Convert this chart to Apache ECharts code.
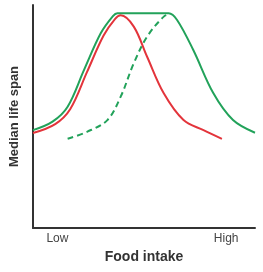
<!DOCTYPE html>
<html>
<head>
<meta charset="utf-8">
<style>
  html, body { margin: 0; padding: 0; background: #fff; }
  #chart { width: 263px; height: 272px; }
</style>
<script src="https://cdn.jsdelivr.net/npm/echarts@6/dist/echarts.min.js"></script>
</head>
<body>
<div id="chart"></div>
<script>
// food intake (0..100) vs median life span (0..100)
const greenSolid = [
  [0, 43.9], [8.8, 47.7], [15.6, 54.4], [23, 70.9], [30.5, 87.3], [36, 95], [38, 96.3],
  [50, 96.3], [61.1, 96.3], [64.9, 93.3], [72.2, 79.8], [81.2, 60.5], [90.1, 48.4], [100, 42.7],
]
const redSolid = [
  [0, 42.6], [10, 46.6], [16.8, 53.4], [24.3, 69.9], [31.8, 86.3], [37, 93.8], [39.5, 95.4],
  [45.4, 90.3], [51.4, 76.8], [58.9, 60.4], [67.8, 48.4], [76.8, 43.9], [85.1, 40],
]
const greenDashed = [
  [15.6, 40], [24.5, 43.2], [33.5, 48.4], [39.5, 58.9], [45.4, 73.9], [51.4, 85.8],
  [58.9, 94.8], [61.9, 96],
]
const xTickValues = [11, 87]
const xTickLabels = ['Low', 'High']

const green = '#22a25a'
const red = '#e3343b'
const axisColor = '#333'

const chart = echarts.init(document.getElementById('chart'))

function lineSeries(data, color, dashed) {
  return {
    type: 'line',
    data,
    smooth: 0.35,
    symbol: 'none',
    lineStyle: { color, width: 2, type: dashed ? [6, 4] : 'solid' },
  }
}

chart.setOption({
  animation: false,
  grid: { left: 32, right: 8, top: 5, bottom: 44 },
  xAxis: {
    type: 'value',
    min: 0,
    max: 100,
    name: 'Food intake',
    nameLocation: 'middle',
    nameGap: 19,
    nameTextStyle: { fontFamily: 'Liberation Sans', fontSize: 14, fontWeight: 'bold', color: axisColor },
    axisLine: { show: true, lineStyle: { color: axisColor, width: 2 } },
    axisTick: { show: false },
    splitLine: { show: false },
    axisLabel: {
      customValues: xTickValues,
      margin: 5,
      fontFamily: 'Liberation Sans',
      fontSize: 12,
      color: '#444',
      formatter: v => xTickLabels[xTickValues.indexOf(v)] || '',
    },
  },
  yAxis: {
    type: 'value',
    min: 0,
    max: 100,
    name: 'Median life span',
    nameLocation: 'middle',
    nameGap: 12,
    nameTextStyle: { fontFamily: 'Liberation Sans', fontSize: 13, fontWeight: 'bold', color: axisColor },
    axisLine: { show: true, lineStyle: { color: axisColor, width: 2 } },
    axisTick: { show: false },
    splitLine: { show: false },
    axisLabel: { show: false },
  },
  series: [
    lineSeries(greenDashed, green, true),
    lineSeries(redSolid, red, false),
    lineSeries(greenSolid, green, false),
  ],
})
</script>
</body>
</html>
